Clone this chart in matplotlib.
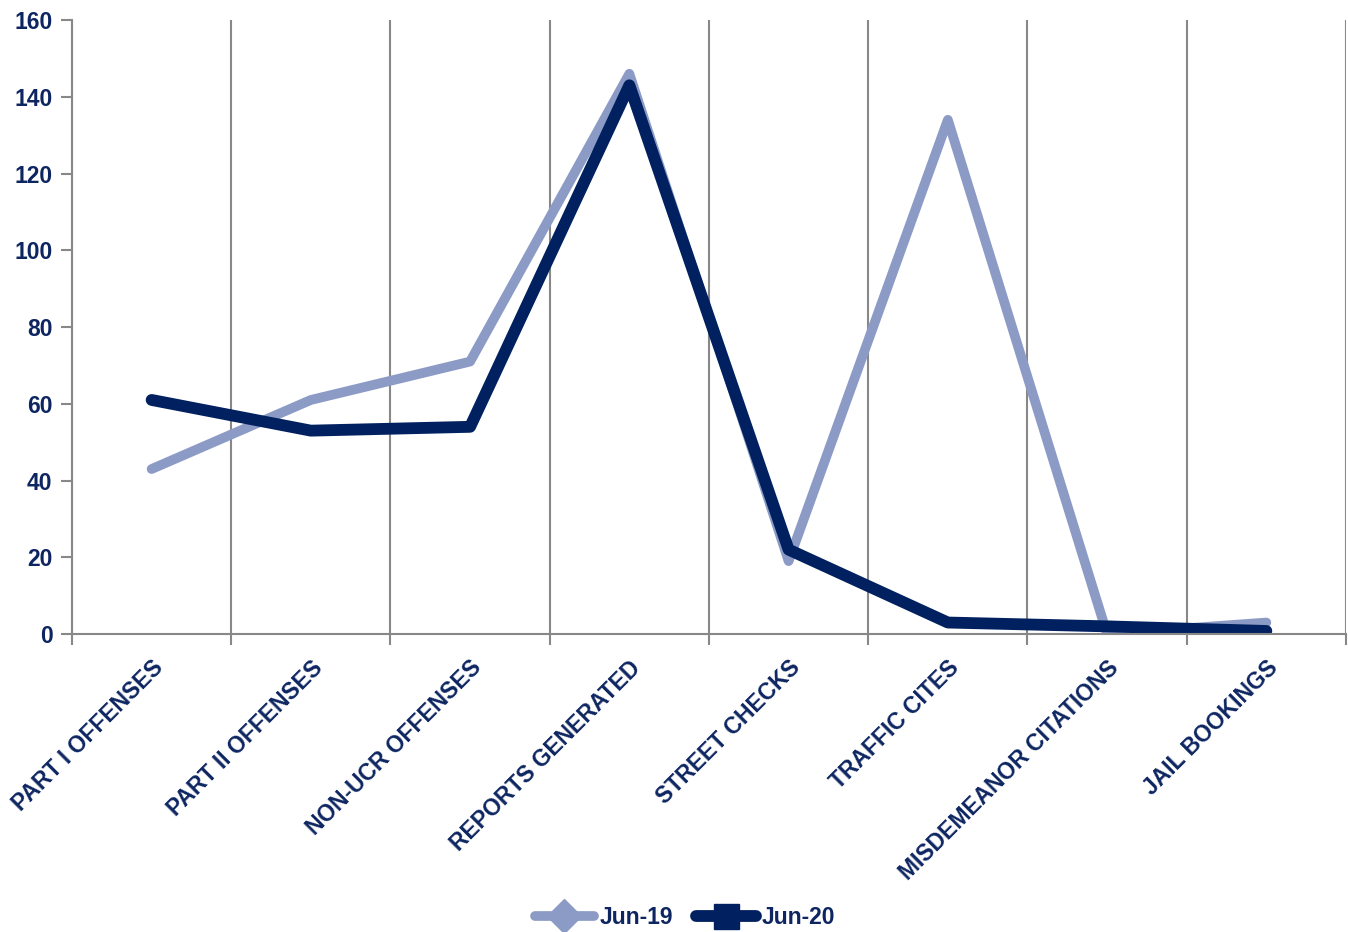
import matplotlib.pyplot as plt
from matplotlib.ticker import FixedLocator, NullFormatter

categories = ["PART I OFFENSES", "PART II OFFENSES", "NON-UCR OFFENSES", "REPORTS GENERATED",
              "STREET CHECKS", "TRAFFIC CITES", "MISDEMEANOR CITATIONS", "JAIL BOOKINGS"]
jun19 = [43, 61, 71, 146, 19, 134, 0, 3]
jun20 = [61, 53, 54, 143, 22, 3, 2, 0.8]

plt.rcParams['font.family'] = ['Liberation Sans', 'DejaVu Sans']
text_color = "#0d2560"
light = "#8c9bc6"
dark = "#00205f"

fig = plt.figure(figsize=(13.48, 9.32), dpi=100)
ax = fig.add_axes([0.0534, 0.3197, 0.9451, 0.6588])

x = [i + 0.5 for i in range(len(categories))]
ax.plot(x, jun19, color=light, lw=7, solid_capstyle="round", solid_joinstyle="round")
ax.plot(x, jun20, color=dark, lw=8.5, solid_capstyle="round", solid_joinstyle="round")

ax.set_xlim(0, len(categories))
ax.set_ylim(0, 160)
ax.set_yticks(range(0, 161, 20))
ax.xaxis.set_major_locator(FixedLocator(range(len(categories) + 1)))
ax.xaxis.set_major_formatter(NullFormatter())
ax.xaxis.set_minor_locator(FixedLocator(x))
ax.set_xticklabels(categories, minor=True, rotation=45, ha="right", rotation_mode="anchor")
ax.tick_params(axis="x", which="minor", length=0, pad=16)
ax.tick_params(axis="x", which="major", length=8, width=1.5, color="#888888", direction="out")
ax.tick_params(axis="y", length=8, width=1.5, color="#888888", pad=6)
for lab in ax.get_xticklabels(minor=True) + ax.get_yticklabels():
    lab.set_fontsize(16.5)
    lab.set_fontweight("bold")
    lab.set_color(text_color)

ax.grid(axis="x", which="major", color="#888888", lw=1.5)
ax.set_axisbelow(True)
for s in ["top", "right"]:
    ax.spines[s].set_visible(False)
for s in ["left", "bottom"]:
    ax.spines[s].set_color("#888888")
    ax.spines[s].set_linewidth(1.5)

h1, = ax.plot([], [], color=light, lw=7, marker="D", markersize=17, solid_capstyle="round")
h2, = ax.plot([], [], color=dark, lw=8.5, marker="s", markersize=18, solid_capstyle="round")
leg = fig.legend([h1, h2], ["Jun-19", "Jun-20"], loc="center", bbox_to_anchor=(0.508, 0.016),
                 ncol=2, frameon=False, handlelength=2.6, handletextpad=0.25, columnspacing=1.0,
                 prop={"size": 16.5, "weight": "bold"})
for t in leg.get_texts():
    t.set_color(text_color)

fig.savefig("out.png", dpi=100)
